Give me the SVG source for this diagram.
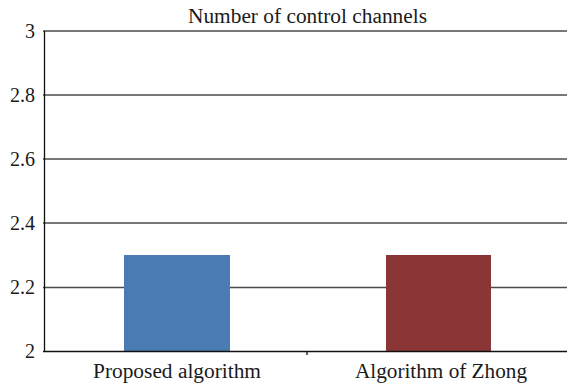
<svg xmlns="http://www.w3.org/2000/svg" width="567" height="387" viewBox="0 0 567 387">
  <style>
    .grid { stroke: #4a4a4a; stroke-width: 1.3; fill: none; }
    .axis { stroke: #111; stroke-width: 1.3; fill: none; }
    .lbl { font-family: "Liberation Serif", "Times New Roman", serif; font-size: 20px; fill: #1a1a1a; }
    .ytick { text-anchor: end; }
  </style>
  <rect width="567" height="387" fill="#ffffff"/>

  <!-- chart title -->
  <text class="lbl" x="188" y="23" textLength="239" lengthAdjust="spacingAndGlyphs">Number of control channels</text>

  <!-- horizontal gridlines, value axis 2 to 3 -->
  <g id="gridlines">
    <line class="grid" x1="43" y1="31" x2="567" y2="31"/>
    <line class="grid" x1="43" y1="95" x2="567" y2="95"/>
    <line class="grid" x1="43" y1="159" x2="567" y2="159"/>
    <line class="grid" x1="43" y1="223" x2="567" y2="223"/>
    <line class="grid" x1="43" y1="287.5" x2="567" y2="287.5"/>
  </g>

  <!-- value axis labels -->
  <g id="y-labels">
    <text class="lbl ytick" x="35" y="38">3</text>
    <text class="lbl ytick" x="35" y="102">2.8</text>
    <text class="lbl ytick" x="35" y="166">2.6</text>
    <text class="lbl ytick" x="35" y="230">2.4</text>
    <text class="lbl ytick" x="35" y="294">2.2</text>
    <text class="lbl ytick" x="35" y="358">2</text>
  </g>

  <!-- bars -->
  <g id="bar-proposed">
    <rect x="124" y="255" width="106" height="96.5" fill="#4b7bb3"/>
    <text class="lbl" x="93" y="378" textLength="168" lengthAdjust="spacingAndGlyphs">Proposed algorithm</text>
  </g>
  <g id="bar-zhong">
    <rect x="386" y="255" width="105" height="96.5" fill="#8b3636"/>
    <text class="lbl" x="355" y="378" textLength="172" lengthAdjust="spacingAndGlyphs">Algorithm of Zhong</text>
  </g>

  <!-- axes -->
  <g id="axes">
    <line class="axis" x1="44.5" y1="31" x2="44.5" y2="351.5"/>
    <line class="axis" x1="43" y1="351.5" x2="567" y2="351.5"/>
    <line class="axis" x1="307" y1="351.5" x2="307" y2="355"/>
  </g>
</svg>
